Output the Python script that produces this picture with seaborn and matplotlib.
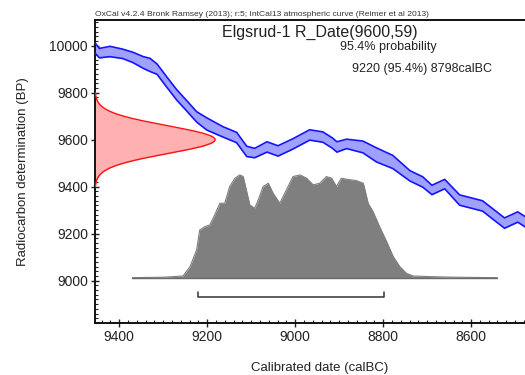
import numpy as np
import pandas as pd
import matplotlib
matplotlib.use("Agg")
import matplotlib.pyplot as plt
import seaborn as sns
from matplotlib.ticker import MultipleLocator

# IntCal13 calibration curve segment (calBC, BP, 1-sigma half width)
curve_year = [9455, 9445, 9421, 9392, 9369, 9345, 9330, 9314, 9291, 9269,
              9246, 9224, 9201, 9164, 9133, 9110, 9092, 9064, 9039, 9005,
              8967, 8937, 8915, 8905, 8883, 8846, 8815, 8778, 8739, 8710,
              8689, 8660, 8626, 8574, 8524, 8494, 8460]
curve_bp = [9990, 9968, 9975, 9965, 9950, 9928, 9918, 9900, 9843, 9790,
            9743, 9697, 9667, 9633, 9609, 9550, 9543, 9569, 9552, 9582,
            9620, 9611, 9585, 9569, 9582, 9569, 9535, 9505, 9446, 9420,
            9386, 9411, 9343, 9318, 9245, 9271, 9230]
curve_err = [22, 20, 22, 20, 22, 25, 28, 22, 22, 22,
             22, 22, 26, 22, 22, 22, 20, 22, 22, 22,
             22, 22, 22, 22, 20, 25, 30, 28, 22, 22,
             20, 20, 22, 22, 22, 22, 22]

# Radiocarbon measurement
r_mean, r_sd = 9600, 59

# Calibrated posterior (relative probability)
post_year = [9370, 9300, 9277, 9255, 9239, 9224, 9217, 9205, 9194, 9183,
             9171, 9160, 9149, 9137, 9126, 9118, 9111, 9103, 9092, 9084,
             9073, 9061, 9050, 9035, 9020, 9005, 8989, 8974, 8959, 8944,
             8929, 8917, 8906, 8895, 8883, 8861, 8845, 8834, 8823, 8808,
             8792, 8777, 8762, 8747, 8732, 8694, 8656, 8600, 8540]
post_prob = [0.0, 0.004, 0.01, 0.016, 0.107, 0.27, 0.464, 0.497, 0.513, 0.61,
             0.724, 0.724, 0.886, 0.968, 1.0, 0.984, 0.854, 0.708, 0.675, 0.756,
             0.886, 0.919, 0.821, 0.724, 0.854, 0.984, 1.0, 0.968, 0.903, 0.919,
             0.984, 0.968, 0.886, 0.968, 0.958, 0.945, 0.919, 0.724, 0.643, 0.497,
             0.351, 0.205, 0.107, 0.042, 0.016, 0.01, 0.006, 0.002, 0.0]

# 95.4% range
range_start, range_end = 9220, 8798

sns.set_style("ticks")
plt.rcParams["font.family"] = ["Liberation Sans", "DejaVu Sans"]

fig = plt.figure(figsize=(5.25, 3.75), dpi=100)
ax = fig.add_axes([95 / 525, 52 / 375, 450 / 525, 303 / 375])

xlim = (9455, 8432)
ylim = (8820, 10109)

# calibration curve band
curve = pd.DataFrame({"year": curve_year, "bp": curve_bp, "err": curve_err})
curve["lo"] = curve["bp"] - curve["err"]
curve["hi"] = curve["bp"] + curve["err"]
ax.fill_between(curve["year"], curve["lo"], curve["hi"], color="#a0a0ff", lw=0, zorder=2)
for col in ("lo", "hi"):
    sns.lineplot(data=curve, x="year", y=col, ax=ax, color="#1414ff", lw=1.2,
                 sort=False, zorder=3)

# radiocarbon date distribution on the y axis
bp_grid = np.linspace(r_mean - 3.4 * r_sd, r_mean + 3.4 * r_sd, 200)
dens = np.exp(-0.5 * ((bp_grid - r_mean) / r_sd) ** 2)
red = pd.DataFrame({"bp": bp_grid, "x": xlim[0] - 273 * dens})
ax.fill_betweenx(red["bp"], xlim[0], red["x"], color="#ffb0b0", lw=0, zorder=2)
sns.lineplot(data=red, x="x", y="bp", ax=ax, color="#ff1010", lw=1.0,
             sort=False, orient="y", zorder=3)

# calibrated distribution
base = 9013
height = 437
post = pd.DataFrame({"year": post_year, "prob": post_prob})
post["top"] = base + post["prob"] * height
ax.fill_between(post["year"], base, post["top"], color="#7f7f7f", lw=0, zorder=2)
sns.lineplot(data=post, x="year", y="top", ax=ax, color="#7f7f7f", lw=0.8,
             sort=False, zorder=2)
ax.plot([post_year[0], post_year[-1]], [base, base], color="#6a6a6a", lw=1.0, zorder=2)

# 95.4% range bracket
yb = 8932
ax.plot([range_start, range_start, range_end, range_end],
        [yb + 20, yb, yb, yb + 20], color="#333333", lw=1.1, zorder=3)

ax.set_xlim(*xlim)
ax.set_ylim(*ylim)
ax.xaxis.set_major_locator(MultipleLocator(200))
ax.xaxis.set_minor_locator(MultipleLocator(20))
ax.yaxis.set_major_locator(MultipleLocator(200))
ax.yaxis.set_minor_locator(MultipleLocator(20))
ax.tick_params(which="major", direction="inout", length=6, width=1.0,
               labelsize=10, colors="#222222", pad=2)
ax.tick_params(which="minor", direction="in", length=2.5, width=0.8,
               colors="#222222")
for s in ax.spines.values():
    s.set_linewidth(1.4)
    s.set_color("#111111")

ax.set_xlabel("Calibrated date (calBC)", fontsize=9.5, color="#222222", labelpad=13)
ax.set_ylabel("Radiocarbon determination (BP)", fontsize=9.5, color="#222222", labelpad=15)

fig.text(95 / 525, 1 - 14 / 375,
         "OxCal v4.2.4 Bronk Ramsey (2013); r:5; IntCal13 atmospheric curve (Reimer et al 2013)",
         fontsize=6.1, color="#333333", va="center", ha="left")
fig.text(320 / 525, 1 - 32 / 375, "Elgsrud-1 R_Date(9600,59)", fontsize=11.5,
         color="#222222", ha="center", va="center")
fig.text(388 / 525, 1 - 47 / 375, "95.4% probability", fontsize=9,
         color="#222222", ha="center", va="center")
fig.text(422 / 525, 1 - 69 / 375, "9220 (95.4%) 8798calBC", fontsize=9,
         color="#222222", ha="center", va="center")

fig.savefig("out.png", dpi=100)
